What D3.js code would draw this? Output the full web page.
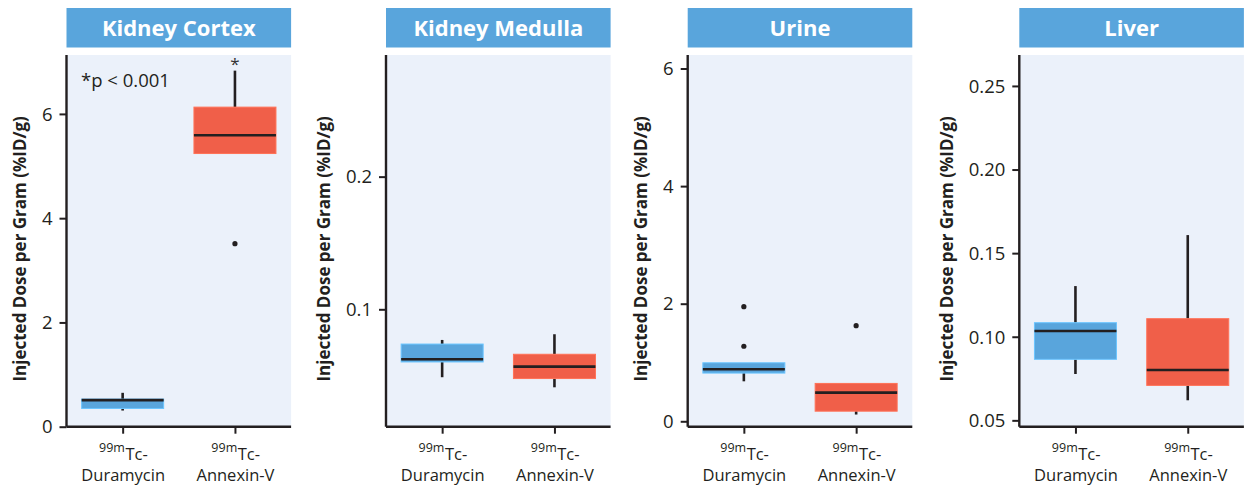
<!DOCTYPE html>
<html>
<head>
<meta charset="utf-8">
<script src="https://cdn.jsdelivr.net/npm/d3@7"></script>
<style>
  html, body { margin: 0; padding: 0; background: #fff; }
  svg { display: block; font-family: "Open Sans", "Noto Sans", sans-serif; }
</style>
</head>
<body>
<svg id="chart" width="1253" height="489"></svg>
<script>
// ---------- DATA ----------
const panelTitles = ["Kidney Cortex", "Kidney Medulla", "Urine", "Liver"];
const groups = ["Duramycin", "Annexin-V"];
const groupColors = ["#59A5DC", "#F05F49"];

// box stats: [lower whisker, Q1, median, Q3, upper whisker]
const cortexDuramycin = [0.31, 0.35, 0.51, 0.53, 0.65];
const cortexAnnexin   = [5.24, 5.24, 5.59, 6.13, 6.83];
const medullaDuramycin = [0.0488, 0.0603, 0.0623, 0.0738, 0.0769];
const medullaAnnexin   = [0.0412, 0.0478, 0.0568, 0.0661, 0.0812];
const urineDuramycin = [0.68, 0.82, 0.885, 0.995, 0.995];
const urineAnnexin   = [0.115, 0.172, 0.488, 0.644, 0.644];
const liverDuramycin = [0.0777, 0.0865, 0.1034, 0.1084, 0.1303];
const liverAnnexin   = [0.062, 0.0709, 0.0801, 0.1108, 0.1608];

// outliers
const cortexOutliers  = [[], [3.51]];
const medullaOutliers = [[], []];
const urineOutliers   = [[1.276, 1.95], [1.626]];
const liverOutliers   = [[], []];

// y domains and tick values
const cortexDomain  = [0, 7.13];
const medullaDomain = [0.0115, 0.2917];
const urineDomain   = [-0.092, 6.23];
const liverDomain   = [0.0462, 0.2685];
const cortexTicks  = [0, 2, 4, 6];
const medullaTicks = [0.1, 0.2];
const urineTicks   = [0, 2, 4, 6];
const liverTicks   = [0.05, 0.10, 0.15, 0.20, 0.25];
const tickFormats = ["d", ".1f", "d", ".2f"];

const yLabel = "Injected Dose per Gram (%ID/g)";
const isotopeSup = "99m";
const isotopeMain = "Tc-";
const pNote = "*p < 0.001";

// ---------- ASSEMBLY ----------
const panelBoxes = [
  [cortexDuramycin, cortexAnnexin],
  [medullaDuramycin, medullaAnnexin],
  [urineDuramycin, urineAnnexin],
  [liverDuramycin, liverAnnexin]
];
const panelOutliers = [cortexOutliers, medullaOutliers, urineOutliers, liverOutliers];
const panelDomains = [cortexDomain, medullaDomain, urineDomain, liverDomain];
const panelTicks = [cortexTicks, medullaTicks, urineTicks, liverTicks];

// layout (plot-area left edges)
const plotLefts = [66.5, 386, 687.7, 1019.3];
const plotWidth = 224.6;
const plotTop = 55, plotBottom = 426.7;
const stripTop = 8, stripBottom = 47.5;

const svg = d3.select("#chart");
const ink = "#231F20";
const font = "'Open Sans', sans-serif";

panelTitles.forEach((title, i) => {
  const x0 = plotLefts[i], x1 = x0 + plotWidth;
  const g = svg.append("g");

  // strip
  g.append("rect").attr("x", x0).attr("y", stripTop)
    .attr("width", plotWidth).attr("height", stripBottom - stripTop)
    .attr("fill", "#59A5DC");
  g.append("text").attr("x", (x0 + x1) / 2).attr("y", 35.5)
    .attr("text-anchor", "middle").attr("fill", "#fff")
    .attr("font-weight", 700).attr("font-size", 22)
    .text(title);

  // panel background
  g.append("rect").attr("x", x0).attr("y", plotTop)
    .attr("width", plotWidth).attr("height", plotBottom - plotTop)
    .attr("fill", "#EBF1FA");

  const y = d3.scaleLinear().domain(panelDomains[i]).range([plotBottom, plotTop]);
  const x = d3.scalePoint().domain(groups).range([x0, x1]).padding(0.5);
  const boxW = 82;

  // boxes
  groups.forEach((grp, j) => {
    const s = panelBoxes[i][j];
    const cx = x(grp);
    const bg = g.append("g");
    bg.append("line").attr("x1", cx).attr("x2", cx)
      .attr("y1", y(s[3])).attr("y2", y(s[4]))
      .attr("stroke", ink).attr("stroke-width", 2.6);
    bg.append("line").attr("x1", cx).attr("x2", cx)
      .attr("y1", y(s[1])).attr("y2", y(s[0]))
      .attr("stroke", ink).attr("stroke-width", 2.6);
    bg.append("rect").attr("x", cx - boxW / 2).attr("y", y(s[3]))
      .attr("width", boxW).attr("height", Math.max(1, y(s[1]) - y(s[3])))
      .attr("fill", groupColors[j])
      .attr("stroke", d3.color(groupColors[j]).brighter(0.5)).attr("stroke-width", 1);
    bg.append("line").attr("x1", cx - boxW / 2).attr("x2", cx + boxW / 2)
      .attr("y1", y(s[2])).attr("y2", y(s[2]))
      .attr("stroke", ink).attr("stroke-width", 2.6);
    panelOutliers[i][j].forEach(v => {
      bg.append("circle").attr("cx", cx).attr("cy", y(v)).attr("r", 2.6).attr("fill", ink);
    });
  });

  // y axis
  const yAxis = d3.axisLeft(y).tickValues(panelTicks[i])
    .tickFormat(d3.format(tickFormats[i])).tickSize(7).tickPadding(7);
  const ya = g.append("g").attr("transform", `translate(${x0},0)`).call(yAxis);
  ya.select(".domain").attr("d", `M0,${plotTop}V${plotBottom}`)
    .attr("stroke", ink).attr("stroke-width", 2.4);
  ya.selectAll(".tick line").attr("stroke", ink).attr("stroke-width", 2);
  ya.selectAll(".tick text").attr("fill", ink).attr("font-size", 18.5)
    .attr("font-family", font).attr("dy", "0.34em");

  // x axis
  const xAxis = d3.axisBottom(x).tickSize(7).tickFormat("");
  const xa = g.append("g").attr("transform", `translate(0,${plotBottom})`).call(xAxis);
  xa.select(".domain").attr("d", `M${x0},0H${x1}`)
    .attr("stroke", ink).attr("stroke-width", 2.4);
  xa.selectAll(".tick line").attr("stroke", ink).attr("stroke-width", 2);
  xa.selectAll(".tick").each(function (d) {
    const tk = d3.select(this);
    const sup = tk.append("text").attr("fill", ink).attr("font-size", 12.5)
      .attr("font-family", font).attr("text-anchor", "start").attr("y", 25.5).text(isotopeSup);
    const main = tk.append("text").attr("fill", ink).attr("font-size", 16.5)
      .attr("font-family", font).attr("text-anchor", "start").attr("y", 33.5).text(isotopeMain);
    const ws = sup.node().getComputedTextLength();
    const wm = main.node().getComputedTextLength();
    const start = -(ws + wm) / 2;
    sup.attr("x", start);
    main.attr("x", start + ws + 0.5);
    tk.append("text").attr("fill", ink).attr("font-size", 16.5)
      .attr("font-family", font).attr("text-anchor", "middle")
      .attr("x", 0).attr("y", 54).text(d);
  });

  // y label
  const tw = d3.max(ya.selectAll(".tick text").nodes(), n => n.getBBox().width);
  g.append("text")
    .attr("transform", `translate(${x0 - 7 - 7 - tw - 16},${(plotTop + plotBottom) / 2 + 8}) rotate(-90)`)
    .attr("text-anchor", "middle").attr("font-weight", 700).attr("font-size", 17)
    .attr("fill", ink).text(yLabel);

  if (i === 0) {
    g.append("text").attr("x", 81).attr("y", 86.5).attr("font-size", 18.5)
      .attr("fill", ink).text(pNote);
    g.append("text").attr("x", x(groups[1])).attr("y", 70)
      .attr("text-anchor", "middle").attr("font-size", 17).attr("fill", "#333").text("*");
  }
});
</script>
</body>
</html>
